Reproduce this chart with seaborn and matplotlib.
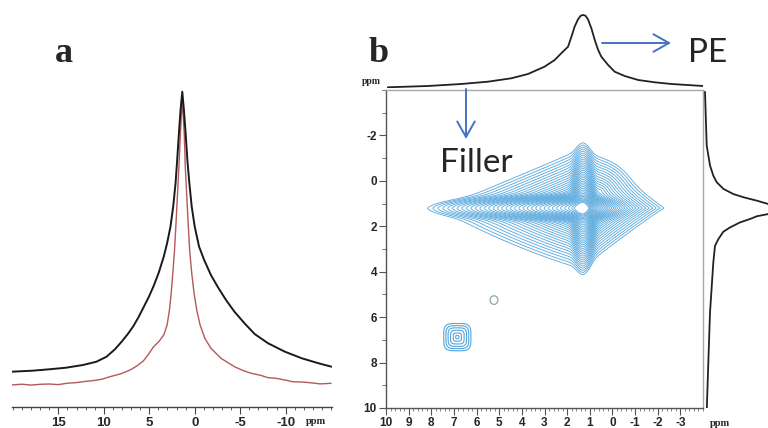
import numpy as np
import matplotlib
matplotlib.use("Agg")
import matplotlib.pyplot as plt
from matplotlib.patches import FancyArrowPatch
import seaborn as sns

# ---------------- data ----------------
# panel a : 1D spectra (ppm, intensity)
a_black_ppm = [20.15, 17.85, 16.0, 14.15, 12.3, 10.81, 9.7, 8.78, 8.04, 7.3, 6.74, 6.19, 5.63, 5.07,
               4.52, 3.96, 3.41, 3.04, 2.67, 2.37, 2.11, 1.93, 1.74, 1.56, 1.37,
               1.19, 1.0, 0.81, 0.59, 0.33, 0.0, -0.48, -1.04, -1.78, -2.52, -3.44, -4.37,
               -5.48, -6.59, -8.07, -9.92, -11.78, -13.63, -15.04]
a_black_int = [35.3, 36.3, 37.7, 39.3, 42, 45.3, 50.3, 57.7, 65.3, 73.7, 81, 89.7, 99.7, 109.7,
               121, 134.3, 150.3, 163.7, 180.3, 200.3, 223.7, 247, 273.7, 297, 315.3,
               297, 273.7, 247, 223.7, 200.3, 180.3, 160.3, 147, 132, 120.3, 107, 95.3,
               83.7, 73, 63.7, 55.3, 48.7, 43.7, 40.3]
a_red_ppm = [20.15, 19.0, 18.0, 17.0, 16.0, 15.0, 14.0, 13.0, 12.3, 11.0, 10.2, 9.33, 8.2, 7.11,
             6.37, 5.63, 5.07, 4.52, 3.96, 3.41, 3.04, 2.78, 2.59, 2.41, 2.22, 2.04, 1.89,
             1.74, 1.59, 1.48, 1.37, 1.26, 1.14, 1.04, 0.89, 0.74, 0.56, 0.33, 0.07,
             -0.22, -0.59, -1.11, -1.78, -2.89, -4.37, -5.3, -6.22, -7.2, -8.07, -9.0,
             -9.92, -10.8, -11.78, -12.8, -13.8, -15.0]
a_red_int = [22, 22.8, 21.9, 22.7, 23, 22.4, 23.8, 24.4, 25.3, 26.6, 27.8, 30.3, 33, 37,
             41, 46.3, 53, 60.3, 65.3, 72, 82, 97, 113.7, 133.7, 157, 187, 213.7,
             240.3, 270.3, 290.3, 307, 290.3, 270.3, 240.3, 213.7, 187, 157, 133.7, 113.7,
             97, 82, 68.7, 58.7, 48.7, 40.3, 36.5, 33.7, 31.8, 29.3, 28.6,
             27, 25.2, 25, 24.2, 23.1, 23.7]
a_xticks = [15, 10, 5, 0, -5, -10]

# panel b : projections
top_ppm = [9.92, 8.15, 6.68, 5.5, 4.47, 3.73, 3.0, 2.55, 2.26, 1.96, 1.81, 1.67, 1.52, 1.40, 1.30,
           1.19, 1.08, 0.93, 0.78, 0.63, 0.49, 0.19, -0.10, -0.54, -1.14, -1.87, -2.61, -4.01]
top_int = [0.7, 2, 4, 6.3, 9.7, 14, 21.3, 28, 34.7, 41.3, 51.3, 61.3, 68.7, 72.3, 73,
           72.3, 68.7, 59.7, 48, 38, 31.3, 23, 16.3, 12, 8, 5.7, 4, 2]
right_ppm = [-3.92, -1.56, -0.68, -0.23, 0.06, 0.35, 0.58, 0.72, 0.87, 1.02, 1.2,
             1.46, 1.56, 1.68, 1.83, 2.05, 2.24, 2.57, 2.86, 3.6, 5.81, 8.02, 10.2]
right_int = [2, 3.7, 7, 10.3, 13.7, 20.3, 30.3, 40.3, 53.7, 65.3, 110,
             65.3, 53.7, 47, 37, 27, 20.3, 15.3, 12, 10.3, 7, 5.3, 3.7]

# panel b : 2D peaks (centre F2, centre F1 in ppm)
main_centre = [1.3, 1.2]
main_reach = [6.8, 3.9, 2.84, 2.9]       # left, right, up, down extent of outer contour (ppm)
ridge_reach_right = 2.4                  # F2 ridge extent to the right of the centre (ppm)
ridge_half = [0.85, 0.9]                 # half height of F2 ridge, half width of F1 ridge (ppm)
quad_round = [1.0, 1.0, 1.15, 0.95]      # outline roundness: upper-left, upper-right, lower-left, lower-right
lobe_centre = [0.5, 0.4]                 # upper-right shoulder of the PE peak
lobe_tip = [-0.35, -0.35]                # outermost point of that shoulder
filler_centre = [6.85, 6.88]
filler_half = 0.6
minor_centre = [5.23, 5.25]
minor_half = [0.17, 0.19]
b_xticks = [10, 9, 8, 7, 6, 5, 4, 3, 2, 1, 0, -1, -2, -3]
b_yticks = [-2, 0, 2, 4, 6, 8, 10]

# ---------------- styling ----------------
sns.set_theme(style="white")
plt.rcParams["font.family"] = ["Liberation Sans", "DejaVu Sans"]

W, H = 768, 428
fig = plt.figure(figsize=(W / 100, H / 100), dpi=100)


def fa(x0, y0, x1, y1):
    """pixel box -> figure axes rect (y from top)"""
    return [x0 / W, 1 - y1 / H, (x1 - x0) / W, (y1 - y0) / H]


tick_font = dict(family="Liberation Sans", weight="bold")

# ---------------- panel a ----------------
axA = fig.add_axes(fa(12, 85, 332, 407))
sns.lineplot(x=a_red_ppm, y=a_red_int, ax=axA, color="#b4585a", linewidth=1.0, sort=False, estimator=None)
sns.lineplot(x=a_black_ppm, y=a_black_int, ax=axA, color="#1a1a1a", linewidth=1.4, sort=False, estimator=None)
axA.set_xlim(20.1, -15.1)
axA.set_ylim(0, 322)
axA.set_yticks([])
for s in ["left", "top", "right"]:
    axA.spines[s].set_visible(False)
axA.spines["bottom"].set_color("#444444")
axA.spines["bottom"].set_linewidth(1.0)
axA.set_xticks(a_xticks)
axA.set_xticks(np.arange(-15, 21, 1), minor=True)
axA.set_xticklabels([str(t) for t in a_xticks], fontsize=9.5, **tick_font)
axA.tick_params(axis="x", which="major", direction="out", length=5, width=0.8, color="#444444", pad=2, bottom=True)
axA.tick_params(axis="x", which="minor", direction="out", length=2.5, width=0.6, color="#444444", bottom=True)
axA.set_facecolor("none")

# ---------------- panel b : main 2D ----------------
axM = fig.add_axes(fa(386, 90, 703, 408))
xx = np.linspace(10, -4, 700)
yy = np.linspace(-4, 10, 700)
X, Y = np.meshgrid(xx, yy)

dx = X - main_centre[0]
dy = Y - main_centre[1]
Rx = np.where(dx > 0, main_reach[0], main_reach[1])
Rh = np.where(dx > 0, main_reach[0], ridge_reach_right)
Ry = np.where(dy < 0, main_reach[2], main_reach[3])
u = np.abs(dx) / Rx
v = np.abs(dy) / Ry
Q = np.where(dy < 0, np.where(dx > 0, quad_round[0], quad_round[1]),
             np.where(dx > 0, quad_round[2], quad_round[3]))
g_h = np.abs(dx) / Rh + (np.abs(dy) / ridge_half[0]) ** 2
g_v = v + (np.abs(dx) / ridge_half[1]) ** 2
g_d = (u ** Q + v ** Q) ** (0.6 / Q)
# shoulder: starts just above the main outline level at its centre, reaches lobe_tip at outer level
lc_u = abs(lobe_centre[0] - main_centre[0]) / main_reach[1]
lc_v = abs(lobe_centre[1] - main_centre[1]) / main_reach[2]
b0 = (lc_u + lc_v) ** 0.6 + 0.01
rb = np.hypot(lobe_tip[0] - lobe_centre[0], lobe_tip[1] - lobe_centre[1]) / (0.95 - b0)
g_b = b0 + np.hypot(X - lobe_centre[0], Y - lobe_centre[1]) / rb
k = 12.0
g = -np.log(np.exp(-k * g_h) + np.exp(-k * g_v) + np.exp(-k * g_d) + np.exp(-k * g_b)) / k
levels = np.linspace(0.0, 0.95, 36)[1:]
axM.contour(X, Y, g, levels=levels, colors="#54a6dc", linewidths=0.6)

fx = np.abs(X - filler_centre[0]) / filler_half
fy = np.abs(Y - filler_centre[1]) / filler_half
gf = (fx ** 4 + fy ** 4) ** 0.25
axM.contour(X, Y, gf, levels=[0.12, 0.3, 0.5, 0.68, 0.84, 1.0], colors="#54a6dc", linewidths=0.8)

gm = np.hypot((X - minor_centre[0]) / minor_half[0], (Y - minor_centre[1]) / minor_half[1])
axM.contour(X, Y, gm, levels=[1.0], colors="#8aa4b4", linewidths=0.9)

axM.set_xlim(10, -4)
axM.set_ylim(10, -4)
axM.set_xticks(b_xticks)
axM.set_xticks(np.arange(-4, 10.01, 0.2), minor=True)
axM.set_xticklabels([str(t) for t in b_xticks], fontsize=8.5, **tick_font)
axM.set_yticks(b_yticks)
axM.set_yticks(np.arange(-4, 10.01, 1), minor=True)
axM.set_yticklabels([str(t) for t in b_yticks], fontsize=8.5, **tick_font)
axM.tick_params(axis="both", which="major", direction="out", length=5, width=0.8, color="#555555", pad=1.5,
                bottom=True, left=True)
axM.tick_params(axis="x", which="minor", direction="out", length=2, width=0.5, color="#555555", bottom=True)
axM.tick_params(axis="y", which="minor", direction="out", length=3, width=0.6, color="#555555", left=True)
for s in ["left", "bottom"]:
    axM.spines[s].set_color("#555555")
    axM.spines[s].set_linewidth(1.0)
for s in ["top", "right"]:
    axM.spines[s].set_color("#a8a8a8")
    axM.spines[s].set_linewidth(1.0)

# top projection
axT = fig.add_axes(fa(386, 0, 703, 88))
sns.lineplot(x=top_ppm, y=top_int, ax=axT, color="#222222", linewidth=1.3, sort=False, estimator=None)
axT.set_xlim(10, -4)
axT.set_ylim(0, 88)
axT.axis("off")

# right projection
axR = fig.add_axes(fa(703, 90, 768, 408))
sns.lineplot(x=right_int, y=right_ppm, ax=axR, color="#222222", linewidth=1.3, sort=False,
             estimator=None, orient="y")
axR.set_xlim(0, 65)
axR.set_ylim(10, -4)
axR.axis("off")

# ---------------- texts & arrows ----------------
serif_b = dict(family="Liberation Serif", weight="bold")
fig.text(64 / W, 1 - 62 / H, "a", fontsize=26, ha="center", va="baseline", **serif_b)
fig.text(379 / W, 1 - 62 / H, "b", fontsize=26, ha="center", va="baseline", **serif_b)
fig.text(316 / W, 1 - 422 / H, "ppm", fontsize=7.5, ha="center", va="center", **serif_b)
fig.text(381 / W, 1 - 82 / H, "ppm", fontsize=7, ha="right", va="center", **serif_b)
fig.text(720 / W, 1 - 423 / H, "ppm", fontsize=7.5, ha="center", va="center", **serif_b)

fig.text(476 / W, 1 - 172 / H, "Filler", fontsize=24, ha="center", va="baseline", family="Lato")
fig.text(708 / W, 1 - 62 / H, "PE", fontsize=24, ha="center", va="baseline", family="Lato")

arrow_kw = dict(arrowstyle="->,head_length=0.8,head_width=0.45", mutation_scale=14,
                color="#4472c4", lw=1.4, shrinkA=0, shrinkB=0, transform=fig.transFigure)
fig.add_artist(FancyArrowPatch((466 / W, 1 - 89 / H), (466 / W, 1 - 139 / H), **arrow_kw))
fig.add_artist(FancyArrowPatch((602 / W, 1 - 43 / H), (671 / W, 1 - 43 / H), **arrow_kw))

fig.savefig("out.png", dpi=100)
